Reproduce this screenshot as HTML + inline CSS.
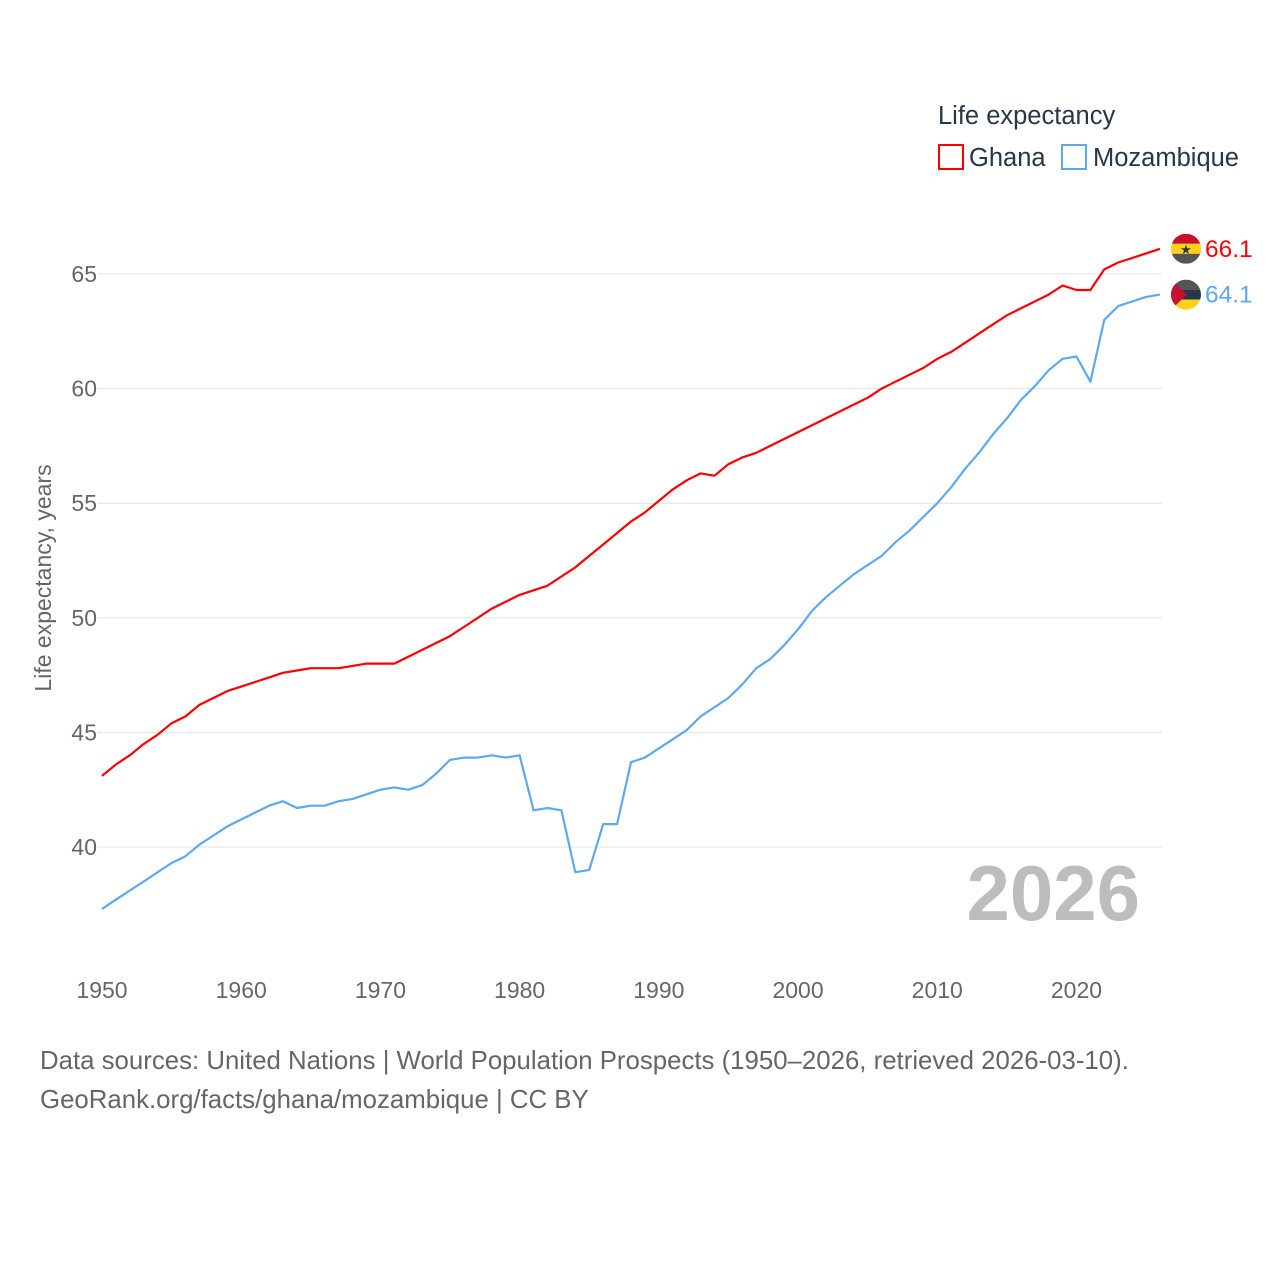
<!DOCTYPE html>
<html><head><meta charset="utf-8"><style>
body{margin:0;background:#fff;width:1280px;height:1280px;overflow:hidden;font-family:"Liberation Sans",sans-serif}
svg text{font-family:"Liberation Sans",sans-serif}
</style></head><body>
<svg id="chart" width="1280" height="1280" xmlns="http://www.w3.org/2000/svg">
<g id="grid"></g>
<g id="yticks"></g>
<g id="xticks"></g>
<text transform="translate(51,578) rotate(-90)" text-anchor="middle" font-size="23" fill="#666">Life expectancy, years</text>
<text x="1140" y="920" text-anchor="end" font-size="78" font-weight="bold" fill="#bdbdbd">2026</text>
<g id="series"></g>
<g>
<text x="938" y="124" font-size="25.5" fill="#263746">Life expectancy</text>
<g><rect x="939" y="145" width="24" height="24" fill="none" stroke="#ff0000" stroke-width="2"/><text x="969" y="166" font-size="25.5" fill="#263746">Ghana</text></g>
<g><rect x="1062" y="145" width="24" height="24" fill="none" stroke="#5ea8ef" stroke-width="2"/><text x="1093" y="166" font-size="25.5" fill="#263746">Mozambique</text></g>
</g>
<text x="40" y="1069" font-size="25.8" fill="#666">Data sources: United Nations | World Population Prospects (1950–2026, retrieved 2026-03-10).</text>
<text x="40" y="1108" font-size="25.8" fill="#666">GeoRank.org/facts/ghana/mozambique | CC BY</text>
</svg>
<script>
const years=[];for(let y=1950;y<=2026;y++)years.push(y);
const ghana=[43.1,43.6,44.0,44.5,44.9,45.4,45.7,46.2,46.5,46.8,47.0,47.2,47.4,47.6,47.7,47.8,47.8,47.8,47.9,48.0,48.0,48.0,48.3,48.6,48.9,49.2,49.6,50.0,50.4,50.7,51.0,51.2,51.4,51.8,52.2,52.7,53.2,53.7,54.2,54.6,55.1,55.6,56.0,56.3,56.2,56.7,57.0,57.2,57.5,57.8,58.1,58.4,58.7,59.0,59.3,59.6,60.0,60.3,60.6,60.9,61.3,61.6,62.0,62.4,62.8,63.2,63.5,63.8,64.1,64.5,64.3,64.3,65.2,65.5,65.7,65.9,66.1];
const mozambique=[37.3,37.7,38.1,38.5,38.9,39.3,39.6,40.1,40.5,40.9,41.2,41.5,41.8,42.0,41.7,41.8,41.8,42.0,42.1,42.3,42.5,42.6,42.5,42.7,43.2,43.8,43.9,43.9,44.0,43.9,44.0,41.6,41.7,41.6,38.9,39.0,41.0,41.0,43.7,43.9,44.3,44.7,45.1,45.7,46.1,46.5,47.1,47.8,48.2,48.8,49.5,50.3,50.9,51.4,51.9,52.3,52.7,53.3,53.8,54.4,55.0,55.7,56.5,57.2,58.0,58.7,59.5,60.1,60.8,61.3,61.4,60.3,63.0,63.6,63.8,64.0,64.1];
const yTicks=[40,45,50,55,60,65];
const xTicks=[1950,1960,1970,1980,1990,2000,2010,2020];
const NS="http://www.w3.org/2000/svg";
const X=yr=>102+(yr-1950)*(1160-102)/76;
const Y=v=>274+(65-v)*(847-274)/25;
function mk(tag,attrs,parent,text){const e=document.createElementNS(NS,tag);for(const k in attrs)e.setAttribute(k,attrs[k]);if(text!==undefined)e.textContent=text;parent.appendChild(e);return e;}
const grid=document.getElementById('grid'),yt=document.getElementById('yticks'),xt=document.getElementById('xticks'),ser=document.getElementById('series');
yTicks.forEach(v=>{
 const l=mk('line',{x1:98,x2:1162,y1:Y(v),y2:Y(v),stroke:'#e3e3e3','stroke-width':1},grid);
 
 
 const t=mk('text',{x:97,y:Y(v)+8,'text-anchor':'end','font-size':23,fill:'#666'},yt,String(v));
 
 
});
xTicks.forEach(v=>{
 const t=mk('text',{x:X(v),y:998,'text-anchor':'middle','font-size':23,fill:'#666'},xt,String(v));
 
 
});
function line(vals,color,name){
 const d=vals.map((v,i)=>(i?'L':'M')+X(years[i]).toFixed(1)+','+Y(v).toFixed(1)).join(' ');
 const p=mk('path',{d:d,fill:'none',stroke:color,'stroke-width':2.2,'stroke-linejoin':'round'},ser);
 
 
 const last=vals[vals.length-1];
 const t=mk('text',{x:1205,y:Y(last)+8,'font-size':24.5,fill:color},ser,last.toFixed(1));
 
 
}
line(ghana,'#ff0000','ghana');
line(mozambique,'#5ea8ef','mozambique');
function flag(cy,name,stripes,extra){
 const g=mk('g',{},ser);
 
 
 const id='c'+name;
 const cp=mk('clipPath',{id:id},g);mk('circle',{cx:1186,cy:cy,r:15},cp);
 const gg=mk('g',{'clip-path':'url(#'+id+')'},g);
 stripes.forEach((c,i)=>mk('rect',{x:1171,y:cy-15+i*10,width:30,height:10,fill:c},gg));
 extra(gg,cy);
}
flag(Y(ghana[ghana.length-1]),'ghana',['#c8102e','#fcd116','#555'],(g,cy)=>{mk('text',{x:1186,y:cy+5,'text-anchor':'middle','font-size':13,fill:'#263746'},g,'★');});
flag(Y(mozambique[mozambique.length-1]),'mozambique',['#555','#263746','#fcd116'],(g,cy)=>{mk('polygon',{points:`1171,${cy-15} 1187,${cy} 1171,${cy+15}`,fill:'#c8102e'},g);});
</script>
</body></html>
